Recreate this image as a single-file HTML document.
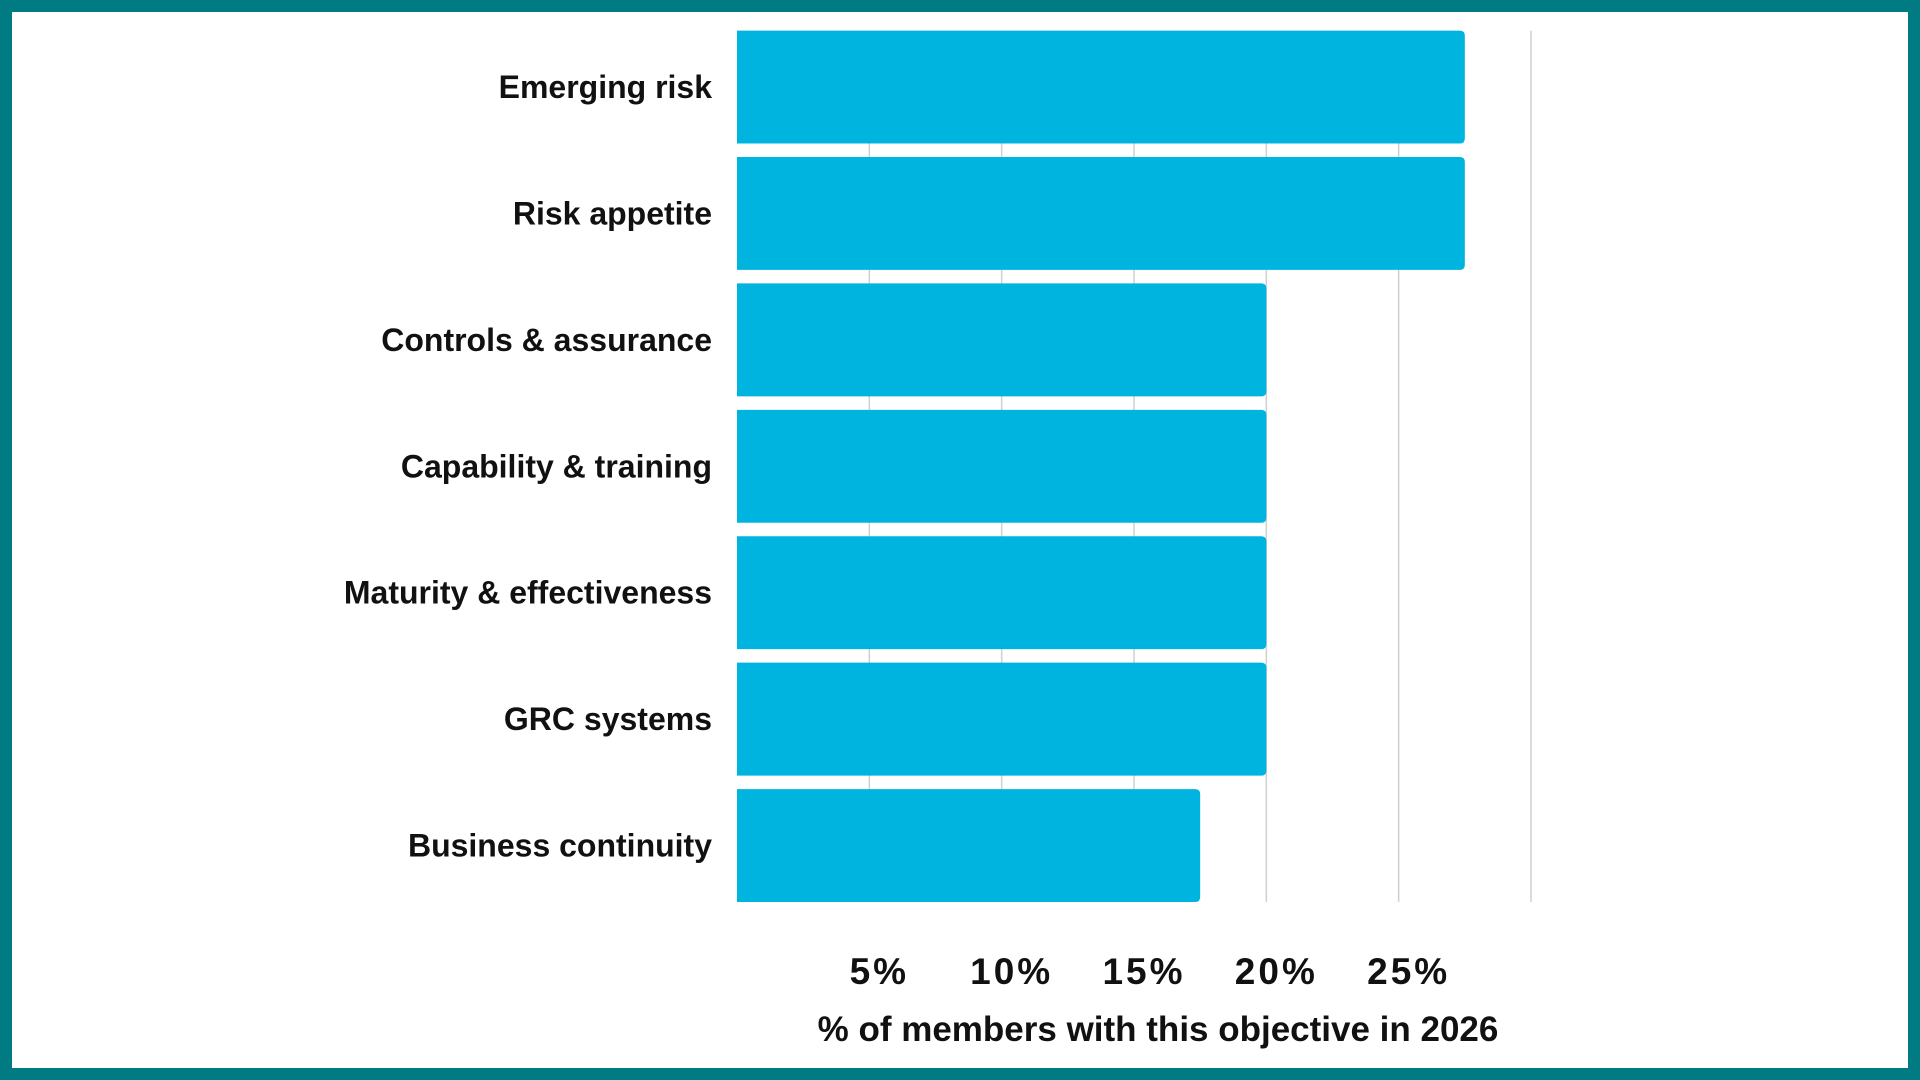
<!DOCTYPE html>
<html><head><meta charset="utf-8"><style>
html,body{margin:0;padding:0;width:1920px;height:1080px;overflow:hidden;background:#fff}
#frame{position:absolute;left:0;top:0;width:1920px;height:1080px;box-sizing:border-box;border:12px solid #007B83}
svg{position:absolute;left:0;top:0}
text{font-family:"Liberation Sans",sans-serif;fill:#111}
</style></head><body>
<div id="frame"></div>
<svg id="chart" width="1920" height="1080"></svg>
<script>
const categories=["Emerging risk","Risk appetite","Controls & assurance","Capability & training","Maturity & effectiveness","GRC systems","Business continuity"];
const values=[27.5,27.5,20,20,20,20,17.5];
const ticks=[5,10,15,20,25,30];
const tickLabels=["5%","10%","15%","20%","25%",""];
const axisTitle="% of members with this objective in 2026";
const NS="http://www.w3.org/2000/svg";
const svgEl=document.getElementById('chart');
const x0=737,x1=1531,xmax=30,yTop=30.6,yBottom=902,gap=13.5;
const band=(yBottom-yTop+gap)/categories.length;
const bh=band-gap;
function xs(v){return x0+(v/xmax)*(x1-x0);}
function ys(i){return yTop+i*band;}
function mk(t,a){const e=document.createElementNS(NS,t);for(const k in a)e.setAttribute(k,a[k]);svgEl.appendChild(e);return e;}
ticks.forEach((t,i)=>{
  const g=mk('line',{x1:xs(t),x2:xs(t),y1:yTop,y2:yBottom,stroke:'#d0d0d0','stroke-width':1.5});
  
  
  if(tickLabels[i]){
    const l=mk('text',{x:xs(t)+10,y:984,'text-anchor':'middle','font-size':37,'font-weight':'bold','letter-spacing':'3'});
    l.textContent=tickLabels[i];
    
    
  }
});
categories.forEach((c,i)=>{
  const y=ys(i), w=xs(values[i])-x0, r=5;
  const p=mk('path',{d:`M${x0},${y}H${x0+w-r}Q${x0+w},${y} ${x0+w},${y+r}V${y+bh-r}Q${x0+w},${y+bh} ${x0+w-r},${y+bh}H${x0}Z`,fill:'#00B4E0'});
  
  
  const t=mk('text',{x:712,y:y+bh/2+11,'text-anchor':'end','font-size':32,'font-weight':'bold'});
  t.textContent=c;
  
  
});
const at=mk('text',{x:1158,y:1041,'text-anchor':'middle','font-size':35,'font-weight':'bold'});
at.textContent=axisTitle;


</script>
</body></html>
